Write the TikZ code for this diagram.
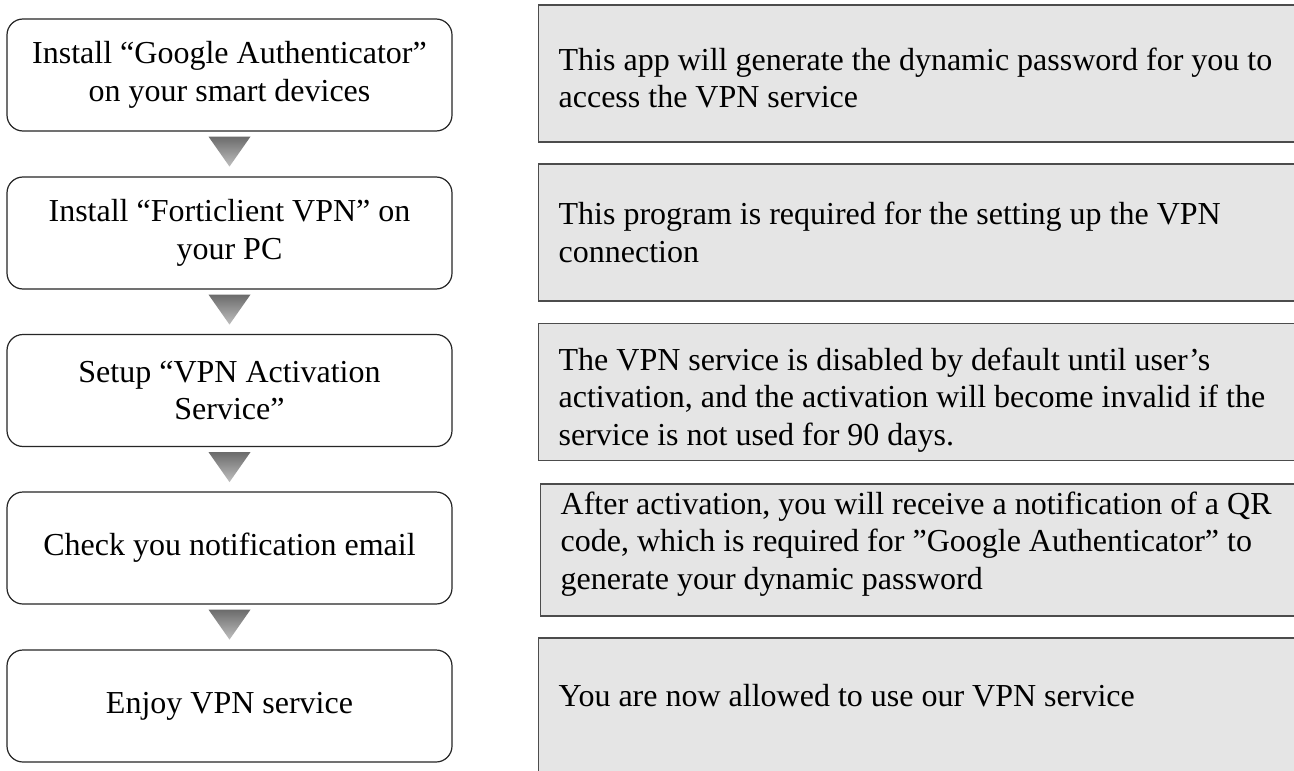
\documentclass[tikz,border=0pt]{standalone}
\usepackage{fontspec}
\setmainfont{Liberation Serif}
\usetikzlibrary{calc}
\tikzset{
  stepbox/.style={draw=black!85, line width=1.2pt, fill=white, rounded corners=16pt,
    minimum width=445pt, minimum height=112pt, align=center, inner sep=0pt,
    font=\fontsize{32pt}{37.5pt}\selectfont},
  notebox/.style={draw=black!70, line width=1.3pt, fill=black!10, anchor=west,
    text width=760pt, inner xsep=20pt, inner ysep=0pt, minimum height=137pt, align=flush left,
    font=\fontsize{32pt}{37.5pt}\selectfont},
  conn/.style={draw=black!45, line width=0.9pt, dash pattern=on 3pt off 1.5pt},
  arrowtri/.style={top color=black!58, bottom color=black!25, draw=none}
}
\begin{document}
\begin{tikzpicture}[x=1pt,y=-1pt]
\clip (0,0) rectangle (1294,771);
\fill[white] (0,0) rectangle (1294,771);

\node[stepbox] (L1) at (229.5,75) {Install “Google Authenticator”\\on your smart devices};
\node[stepbox] (L2) at (229.5,233) {Install “Forticlient VPN” on\\your PC};
\node[stepbox] (L3) at (229.5,390.5) {Setup “VPN Activation\\Service”};
\node[stepbox] (L4) at (229.5,548) {Check you notification email};
\node[stepbox] (L5) at (229.5,706) {Enjoy VPN service};

\node[notebox] (R1) at (538,73.5) {\rule{0pt}{31pt}This app will generate the dynamic password for you to\\access the VPN service};
\node[notebox] (R2) at (538,232.5) {This program is required for the setting up the VPN\\connection};
\node[notebox] (R3) at (538,392) {\rule{0pt}{38pt}The VPN service is disabled by default until user’s\\activation, and the activation will become invalid if the\\service is not used for 90 days.};
\node[notebox, minimum height=132pt] (R4) at (540,550) {After activation, you will receive a notification of a QR\\code, which is required for ”Google Authenticator” to\\generate your dynamic password\rule[-19pt]{0pt}{1pt}};
\node[notebox] (R5) at (538,706.5) {You are now allowed to use our VPN service\rule[-23pt]{0pt}{1pt}};

\foreach \i in {1,...,5}{
  \draw[conn] ($(L\i.east)+(0,2)$) -- ($(L\i.east)+(0,2)$ -| R\i.west);
}
\foreach \i in {1,...,4}{
  \shade[arrowtri] ($(L\i.south)+(-21,5)$) -- ($(L\i.south)+(21,5)$) -- ($(L\i.south)+(0,35)$) -- cycle;
}
\end{tikzpicture}
\end{document}
